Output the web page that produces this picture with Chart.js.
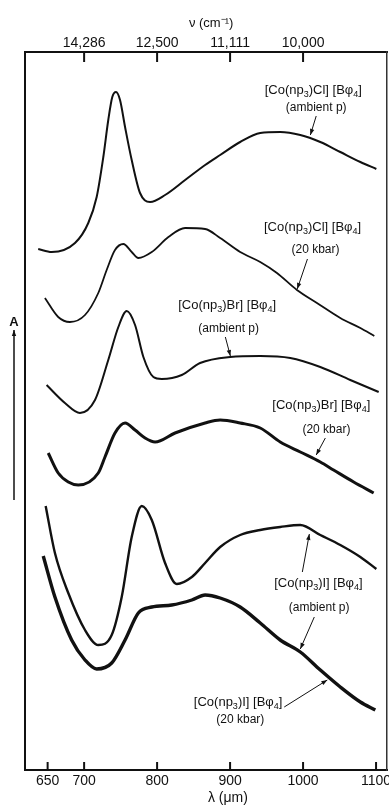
<!DOCTYPE html>
<html><head><meta charset="utf-8">
<script src="https://cdn.jsdelivr.net/npm/chart.js@4/dist/chart.umd.min.js"></script>
<style>html,body{margin:0;padding:0;background:#fff}canvas{display:block}</style>
</head><body>
<canvas id="c" width="389" height="805"></canvas>
<script>
// ---- tick labels ----
const bottomTickNm = [650, 700, 800, 900, 1000, 1100];
const bottomTickLabels = ['650', '700', '800', '900', '1000', '1100'];
const topTickNm = [700, 800, 900, 1000];
const topTickLabels = ['14,286', '12,500', '11,111', '10,000'];
const bottomTitle = 'λ (μm)';
const topTitle = 'ν (cm⁻¹)';

// ---- series: wavelength (nm) and absorbance (arb. units, offset traces) ----
const clAmbNm = [637.1,655.5,687.5,705.7,717.2,726.3,733.1,738.6,743.7,749.2,756.1,765.2,776.6,790.4,810.9,838.4,865.8,886.4,913.8,941.3,968.7,996.2,1023.6,1051.0,1078.5,1100.4];
const clAmbA  = [5.21,5.18,5.27,5.47,5.73,6.13,6.50,6.73,6.78,6.70,6.43,6.10,5.77,5.68,5.75,5.90,6.05,6.15,6.28,6.37,6.38,6.35,6.28,6.18,6.08,6.01];

const cl20Nm = [646.3,664.5,680.6,701.2,719.4,730.9,742.3,753.7,765.2,774.3,792.7,815.5,838.4,865.8,886.4,913.8,941.3,964.2,991.6,1019.0,1051.0,1078.5,1097.6];
const cl20A  = [4.72,4.53,4.48,4.55,4.77,5.00,5.20,5.26,5.18,5.12,5.18,5.33,5.42,5.41,5.32,5.18,5.08,4.97,4.80,4.67,4.52,4.42,4.34];

const brAmbNm = [648.6,673.7,694.3,714.9,733.1,746.9,758.4,769.8,781.2,794.9,806.4,833.8,858.9,900.1,941.3,982.5,1023.6,1064.7,1103.6];
const brAmbA  = [3.85,3.67,3.57,3.70,4.10,4.43,4.59,4.45,4.13,3.93,3.91,3.95,4.07,4.13,4.14,4.12,4.03,3.90,3.78];

const br20Nm = [650.8,664.5,678.3,692.0,719.4,728.6,742.3,756.1,769.8,783.5,797.2,824.6,865.8,886.4,913.8,941.3,968.7,996.2,1023.6,1041.8,1069.3,1096.7];
const br20A  = [3.17,2.97,2.88,2.85,2.97,3.13,3.37,3.47,3.40,3.32,3.28,3.37,3.47,3.50,3.47,3.42,3.28,3.18,3.08,3.00,2.88,2.77];

const iAmbNm = [647.3,660.0,678.3,701.2,719.4,737.8,751.5,765.2,779.0,792.7,810.9,827.0,847.6,865.8,886.4,913.8,941.3,968.7,996.2,1023.6,1051.0,1078.5,1100.4];
const iAmbA  = [2.64,2.17,1.77,1.40,1.25,1.35,1.73,2.33,2.64,2.50,2.07,1.86,1.93,2.07,2.23,2.35,2.40,2.43,2.45,2.35,2.25,2.13,2.01];

const i20Nm = [644.0,660.0,682.9,701.2,717.2,737.8,756.1,774.3,792.7,820.1,847.6,865.8,886.4,913.8,941.3,968.7,996.2,1023.6,1051.0,1078.5,1099.0];
const i20A  = [2.14,1.73,1.30,1.10,1.01,1.07,1.30,1.57,1.63,1.65,1.70,1.75,1.72,1.63,1.47,1.30,1.18,1.00,0.83,0.68,0.60];

// ---- label texts ----
const clName = [{t:'[Co(np'},{t:'3',sub:true},{t:')Cl] [Bφ'},{t:'4',sub:true},{t:']'}];
const brName = [{t:'[Co(np'},{t:'3',sub:true},{t:')Br] [Bφ'},{t:'4',sub:true},{t:']'}];
const iName  = [{t:'[Co(np'},{t:'3',sub:true},{t:')I] [Bφ'},{t:'4',sub:true},{t:']'}];
const ambientText = '(ambient p)';
const kbarText = '(20 kbar)';

const series = [
  {nm: clAmbNm, a: clAmbA, w: 2},
  {nm: cl20Nm, a: cl20A, w: 1.8},
  {nm: brAmbNm, a: brAmbA, w: 2},
  {nm: br20Nm, a: br20A, w: 3},
  {nm: iAmbNm, a: iAmbA, w: 2.4},
  {nm: i20Nm, a: i20A, w: 3.4}
];

const annotations = [
  {name: clName, sub: ambientText, p1: [1014, 6.80], p2: [1018, 6.62], arrows: [[[1018, 6.54], [1010, 6.35]]]},
  {name: clName, sub: kbarText, p1: [1013, 5.43], p2: [1017, 5.20], arrows: [[[1006, 5.11], [992, 4.81]]]},
  {name: brName, sub: ambientText, p1: [896, 4.65], p2: [898, 4.41], arrows: [[[893.5, 4.33], [900.4, 4.14]]]},
  {name: brName, sub: kbarText, p1: [1025, 3.65], p2: [1032, 3.40], arrows: [[[1030.5, 3.32], [1018, 3.15]]]},
  {name: iName, sub: ambientText, p1: [1021, 1.87], p2: [1022, 1.62], arrows: [[[999, 1.98], [1008.6, 2.36]], [[1015.4, 1.53], [996.2, 1.21]]]},
  {name: iName, sub: kbarText, p1: [911, 0.68], p2: [914, 0.50], arrows: [[[974.2, 0.63], [1033.2, 0.90]]]}
];

const FONT = '"Liberation Sans", Arial, sans-serif';
const INK = '#111';

function drawRich(ctx, parts, cx, cy, size) {
  const subSize = Math.round(size * 0.7);
  let total = 0;
  const widths = parts.map(p => {
    ctx.font = (p.sub ? subSize : size) + 'px ' + FONT;
    const w = ctx.measureText(p.t).width;
    total += w; return w;
  });
  let x = cx - total / 2;
  ctx.textAlign = 'left';
  ctx.textBaseline = 'middle';
  parts.forEach((p, i) => {
    ctx.font = (p.sub ? subSize : size) + 'px ' + FONT;
    ctx.fillText(p.t, x, cy + (p.sub ? size * 0.32 : 0));
    x += widths[i];
  });
}

function arrow(ctx, x1, y1, x2, y2) {
  ctx.beginPath(); ctx.moveTo(x1, y1); ctx.lineTo(x2, y2); ctx.stroke();
  const ang = Math.atan2(y2 - y1, x2 - x1);
  const L = 6, W = 2.2;
  ctx.beginPath();
  ctx.moveTo(x2, y2);
  ctx.lineTo(x2 - L * Math.cos(ang) + W * Math.sin(ang), y2 - L * Math.sin(ang) - W * Math.cos(ang));
  ctx.lineTo(x2 - L * Math.cos(ang) - W * Math.sin(ang), y2 - L * Math.sin(ang) + W * Math.cos(ang));
  ctx.closePath(); ctx.fill();
}

const decor = {
  id: 'decor',
  afterDatasetsDraw(chart) {
    const ctx = chart.ctx;
    const xs = chart.scales.x, ys = chart.scales.y;
    const ca = chart.chartArea;
    ctx.save();
    ctx.fillStyle = INK; ctx.strokeStyle = INK;
    // inward tick marks
    ctx.lineWidth = 2;
    bottomTickNm.forEach(v => {
      const px = xs.getPixelForValue(v);
      ctx.beginPath(); ctx.moveTo(px, ca.bottom); ctx.lineTo(px, ca.bottom - 8); ctx.stroke();
    });
    topTickNm.forEach(v => {
      const px = chart.scales.x2.getPixelForValue(v);
      ctx.beginPath(); ctx.moveTo(px, ca.top); ctx.lineTo(px, ca.top + 10); ctx.stroke();
    });
    // axis titles
    ctx.textAlign = 'center'; ctx.textBaseline = 'middle';
    ctx.font = '14px ' + FONT;
    ctx.fillText(bottomTitle, xs.getPixelForValue(897), xs.bottom - 7);
    ctx.font = '13px ' + FONT;
    ctx.fillText(topTitle, xs.getPixelForValue(874), chart.scales.x2.top + 23);
    // annotations
    annotations.forEach(an => {
      drawRich(ctx, an.name, xs.getPixelForValue(an.p1[0]), ys.getPixelForValue(an.p1[1]), 13);
      ctx.font = '12px ' + FONT; ctx.textAlign = 'center'; ctx.textBaseline = 'middle';
      ctx.fillText(an.sub, xs.getPixelForValue(an.p2[0]), ys.getPixelForValue(an.p2[1]));
      ctx.lineWidth = 1;
      an.arrows.forEach(ar => arrow(ctx,
        xs.getPixelForValue(ar[0][0]), ys.getPixelForValue(ar[0][1]),
        xs.getPixelForValue(ar[1][0]), ys.getPixelForValue(ar[1][1])));
    });
    // y-axis "A" with arrow
    const ax = ca.left - 11;
    ctx.font = 'bold 13px ' + FONT; ctx.textAlign = 'center'; ctx.textBaseline = 'middle';
    ctx.fillText('A', ax, ca.top + 270);
    ctx.lineWidth = 1.5;
    arrow(ctx, ax, ca.top + 448, ax, ca.top + 278);
    ctx.restore();
  }
};

const noPad = s => { s.paddingLeft = 0; s.paddingRight = 0; s.paddingTop = 0; s.paddingBottom = 0; };

new Chart(document.getElementById('c'), {
  type: 'line',
  data: {
    datasets: series.map(s => ({
      data: s.nm.map((x, i) => ({x: x, y: s.a[i]})),
      borderColor: INK,
      borderWidth: s.w,
      pointRadius: 0,
      fill: false,
      cubicInterpolationMode: 'monotone',
      xAxisID: 'x', yAxisID: 'y'
    }))
  },
  options: {
    responsive: false,
    animation: false,
    devicePixelRatio: 1,
    layout: {padding: {left: 25, right: 2, top: 0, bottom: 0}},
    plugins: {legend: {display: false}, tooltip: {enabled: false}},
    scales: {
      x: {
        type: 'linear', position: 'bottom', min: 619, max: 1115,
        afterBuildTicks: s => { s.ticks = bottomTickNm.map(v => ({value: v})); },
        afterFit: s => { s.height = 35; noPad(s); },
        grid: {display: false, drawTicks: false},
        border: {display: true, color: INK, width: 2},
        ticks: {color: INK, padding: 3, font: {family: FONT, size: 14}, maxRotation: 0, autoSkip: false,
          callback: v => bottomTickLabels[bottomTickNm.indexOf(v)]}
      },
      x2: {
        type: 'linear', position: 'top', min: 619, max: 1115,
        afterBuildTicks: s => { s.ticks = topTickNm.map(v => ({value: v})); },
        afterFit: s => { s.height = 52; noPad(s); },
        grid: {display: false, drawTicks: false},
        border: {display: true, color: INK, width: 2},
        ticks: {color: INK, padding: 0, font: {family: FONT, size: 14}, maxRotation: 0, autoSkip: false,
          callback: v => topTickLabels[topTickNm.indexOf(v)]}
      },
      y: {
        type: 'linear', position: 'left', min: 0, max: 7.18,
        afterFit: s => { s.width = 0; noPad(s); },
        grid: {display: false, drawTicks: false},
        border: {display: true, color: INK, width: 2},
        ticks: {display: false}
      },
      y2: {
        type: 'linear', position: 'right', min: 0, max: 7.18,
        afterFit: s => { s.width = 0; noPad(s); },
        grid: {display: false, drawTicks: false},
        border: {display: true, color: '#333', width: 1.5},
        ticks: {display: false}
      }
    }
  },
  plugins: [decor]
});
</script>
</body></html>
